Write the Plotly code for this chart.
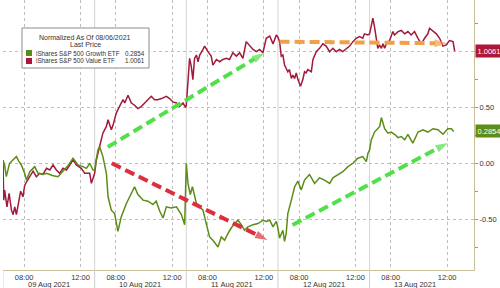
import plotly.graph_objects as go

# ---------------- data ----------------
DAYS = ["09 Aug 2021", "10 Aug 2021", "11 Aug 2021", "12 Aug 2021", "13 Aug 2021"]
SESSION_OPEN_H = 6.5      # 06:30 local display time
SESSION_LEN_H = 6.5       # 06:30 - 13:00
TICK_HOURS = [8.0, 12.0]
TICK_TEXT = ["08:00", "12:00"]

# minutes after session open, per day ; values normalized as of 08/06/2021
value_min = [
    [0, 3, 7, 17, 26, 36, 43, 50, 57, 67, 75, 85, 92, 99, 114, 128, 142, 156, 170, 185, 199, 213, 227, 241, 255, 270, 284, 298, 312, 333, 348, 369, 376],
    [0, 7, 14, 21, 35, 50, 57, 71, 78, 92, 106, 121, 128, 142, 156, 170, 184, 199, 213, 227, 241, 255, 269, 284, 305, 319, 333, 348, 362, 376, 387],
    [0, 7, 14, 21, 28, 35, 43, 50, 57, 71, 78, 92, 106, 113, 128, 142, 156, 170, 184, 198, 213, 227, 241, 255, 270, 284, 298, 312, 326, 340, 355, 369, 383],
    [0, 7, 14, 21, 28, 42, 49, 57, 63, 71, 78, 85, 96, 106, 113, 120, 127, 142, 149, 163, 177, 191, 205, 220, 234, 248, 262, 276, 291, 305, 319, 333, 347, 361, 368, 383],
    [0, 7, 14, 21, 28, 35, 43, 50, 57, 64, 71, 85, 99, 106, 121, 135, 149, 163, 177, 191, 206, 220, 234, 248, 255, 270, 284, 298, 312, 326, 340, 355, 362],
]
value_val = [
    [0.03, -0.33, -0.24, -0.39, -0.27, -0.42, -0.46, -0.39, -0.46, -0.33, -0.25, -0.30, -0.20, -0.17, -0.12, -0.07, -0.12, -0.09, -0.10, -0.045, -0.06, -0.015, -0.06, -0.09, -0.045, -0.06, -0.015, 0.03, -0.015, -0.045, -0.09, -0.09, -0.18],
    [-0.09, 0.03, 0.105, 0.15, 0.27, 0.33, 0.39, 0.30, 0.34, 0.45, 0.51, 0.57, 0.54, 0.61, 0.54, 0.52, 0.49, 0.51, 0.54, 0.57, 0.60, 0.57, 0.57, 0.58, 0.60, 0.58, 0.55, 0.54, 0.51, 0.54, 0.50],
    [0.52, 0.72, 0.94, 0.87, 0.75, 0.94, 0.97, 0.91, 0.97, 1.02, 1.05, 1.00, 0.96, 0.88, 0.93, 0.91, 0.93, 0.94, 0.93, 0.99, 0.96, 0.99, 0.94, 1.09, 1.05, 1.02, 1.00, 1.02, 0.99, 1.12, 1.14, 1.07, 1.15],
    [1.13, 1.09, 0.96, 0.97, 0.88, 0.82, 0.84, 0.76, 0.79, 0.76, 0.81, 0.75, 0.69, 0.75, 0.82, 0.81, 0.84, 0.82, 0.93, 1.00, 1.03, 1.07, 1.05, 1.00, 1.03, 1.00, 1.02, 1.00, 1.03, 1.05, 1.09, 1.12, 1.135, 1.12, 1.16, 1.15],
    [1.16, 1.25, 1.30, 1.22, 1.10, 1.03, 1.06, 1.03, 1.07, 1.03, 1.07, 1.10, 1.18, 1.15, 1.18, 1.19, 1.16, 1.18, 1.15, 1.18, 1.12, 1.07, 1.12, 1.16, 1.21, 1.18, 1.16, 1.12, 1.05, 1.06, 1.10, 1.09, 1.0061],
]

growth_min = [
    [0, 7, 14, 28, 42, 57, 67, 78, 92, 100, 114, 135, 149, 170, 185, 210, 234, 255, 277, 298, 319, 340, 355, 369, 383],
    [0, 14, 21, 35, 50, 57, 71, 85, 99, 113, 135, 156, 170, 184, 206, 227, 248, 262, 277, 291, 305, 326, 348, 369, 383],
    [0, 7, 17, 26, 43, 57, 71, 85, 99, 113, 135, 149, 163, 177, 191, 206, 220, 234, 248, 262, 284, 305, 326, 340, 355, 369, 383],
    [0, 7, 21, 28, 35, 42, 57, 71, 85, 99, 113, 134, 156, 177, 198, 220, 234, 255, 276, 298, 319, 340, 361, 376, 383],
    [0, 7, 21, 35, 43, 50, 64, 78, 92, 106, 121, 135, 149, 163, 184, 206, 227, 248, 270, 291, 312, 333, 348, 358],
]
growth_val = [
    [0.03, -0.02, -0.12, 0.0, 0.03, 0.06, 0.02, -0.015, -0.09, -0.15, -0.075, -0.03, -0.09, -0.10, -0.09, -0.11, -0.12, -0.075, -0.02, 0.045, -0.015, -0.03, -0.045, 0.0, -0.06],
    [-0.06, 0.12, 0.15, 0.06, -0.09, -0.30, -0.42, -0.45, -0.61, -0.48, -0.36, -0.27, -0.21, -0.28, -0.33, -0.34, -0.37, -0.34, -0.43, -0.49, -0.39, -0.40, -0.39, -0.46, -0.55],
    [0.0, -0.18, -0.28, -0.21, -0.36, -0.39, -0.42, -0.54, -0.66, -0.69, -0.75, -0.66, -0.69, -0.63, -0.58, -0.54, -0.51, -0.55, -0.60, -0.57, -0.55, -0.54, -0.51, -0.52, -0.51, -0.57, -0.52],
    [-0.58, -0.67, -0.60, -0.70, -0.63, -0.45, -0.33, -0.21, -0.16, -0.24, -0.15, -0.10, -0.18, -0.13, -0.15, -0.18, -0.13, -0.10, -0.075, -0.03, 0.0, 0.045, 0.06, 0.015, 0.09],
    [0.12, 0.21, 0.28, 0.31, 0.33, 0.41, 0.31, 0.27, 0.28, 0.26, 0.23, 0.24, 0.21, 0.26, 0.18, 0.28, 0.30, 0.28, 0.31, 0.30, 0.26, 0.31, 0.31, 0.2854],
]

GROWTH_NAME = "iShares S&P 500 Growth ETF"
VALUE_NAME = "iShares S&P 500 Value ETF"
GROWTH_LAST = 0.2854
VALUE_LAST = 1.0061

# annotation arrows: (day, minute) start -> (day, minute) end, with values
ARROWS = [
    ((1, 56), 0.146, (2, 332), 0.988, "#52E04A"),
    ((1, 73), 0.0, (2, 345), -0.687, "#DC2E3C"),
    ((3, 62), -0.553, (4, 333), 0.182, "#52E04A"),
    ((3, 7), 1.09, (4, 329), 1.075, "#F0A048"),
]

# ---------------- styling ----------------
GREEN = "#5B8C16"
RED = "#A3193B"
AXIS_COL = "#C9BE9A"
GRID_COL = "#BDBDBD"
FONT = "Liberation Sans"


def to_x(day, minute):
    return day * SESSION_LEN_H + minute / 60.0


def flatten(mins, vals):
    xs, ys = [], []
    for d, (mm, vv) in enumerate(zip(mins, vals)):
        for m, v in zip(mm, vv):
            xs.append(to_x(d, m))
            ys.append(v)
    return xs, ys


fig = go.Figure()

vx, vy = flatten(value_min, value_val)
gx, gy = flatten(growth_min, growth_val)

fig.add_trace(go.Scatter(x=vx, y=vy, mode="lines", line=dict(color=RED, width=1.5),
                         name=VALUE_NAME, showlegend=False, hoverinfo="skip"))
fig.add_trace(go.Scatter(x=gx, y=gy, mode="lines", line=dict(color=GREEN, width=1.5),
                         name=GROWTH_NAME, showlegend=False, hoverinfo="skip"))

for (d0, m0), y0, (d1, m1), y1, col in ARROWS:
    fig.add_trace(go.Scatter(
        x=[to_x(d0, m0), to_x(d1, m1)], y=[y0, y1], mode="lines+markers",
        line=dict(color=col, width=4, dash="10px,5px"),
        marker=dict(symbol=["circle", "arrow"], size=[0, 13], angleref="previous",
                    color=col, line=dict(width=0)),
        showlegend=False, hoverinfo="skip", cliponaxis=False))

n_days = len(DAYS)
tickvals, ticktext = [], []
for d in range(n_days):
    for h, t in zip(TICK_HOURS, TICK_TEXT):
        tickvals.append(d * SESSION_LEN_H + (h - SESSION_OPEN_H))
        ticktext.append(t)

shapes = []
# day boundary lines (inside plot and through the label band)
for d in range(n_days):
    xb = d * SESSION_LEN_H
    if d > 0:
        shapes.append(dict(type="line", xref="x", yref="paper", x0=xb, x1=xb, y0=0, y1=1,
                           line=dict(color="#D4D4D4", width=1), layer="below"))
    shapes.append(dict(type="line", xref="x", yref="paper", x0=xb, x1=xb, y0=0, y1=-0.07,
                       line=dict(color="#CFCFCF", width=1)))

# legend box
L, R, T, B = 3, 26, 0, 18
PW, PH = 500 - L - R, 288 - T - B


def px_x(p):
    return (p - L) / PW


def px_y(p):
    return 1 - (p - T) / PH


shapes.append(dict(type="rect", xref="paper", yref="paper",
                   x0=px_x(22), x1=px_x(149), y0=px_y(68), y1=px_y(28),
                   fillcolor="white", line=dict(color="#8C8C8C", width=1)))
shapes.append(dict(type="rect", xref="paper", yref="paper",
                   x0=px_x(26), x1=px_x(32), y0=px_y(56), y1=px_y(50),
                   fillcolor=GREEN, line=dict(width=0)))
shapes.append(dict(type="rect", xref="paper", yref="paper",
                   x0=px_x(26), x1=px_x(32), y0=px_y(64), y1=px_y(58),
                   fillcolor="#B0163A", line=dict(width=0)))

ttl = dict(family=FONT, size=7, color="#333333")
txt = dict(family=FONT, size=6.3, color="#333333")
annotations = [
    dict(xref="paper", yref="paper", x=px_x(85), y=px_y(37), text="Normalized As Of 08/06/2021",
         showarrow=False, font=ttl, xanchor="center", yanchor="middle"),
    dict(xref="paper", yref="paper", x=px_x(85), y=px_y(45), text="Last Price",
         showarrow=False, font=ttl, xanchor="center", yanchor="middle"),
    dict(xref="paper", yref="paper", x=px_x(34), y=px_y(53), text=GROWTH_NAME,
         showarrow=False, font=txt, xanchor="left", yanchor="middle"),
    dict(xref="paper", yref="paper", x=px_x(147), y=px_y(53), text=f"{GROWTH_LAST:.4f}",
         showarrow=False, font=txt, xanchor="right", yanchor="middle"),
    dict(xref="paper", yref="paper", x=px_x(34), y=px_y(61), text=VALUE_NAME,
         showarrow=False, font=txt, xanchor="left", yanchor="middle"),
    dict(xref="paper", yref="paper", x=px_x(147), y=px_y(61), text=f"{VALUE_LAST:.4f}",
         showarrow=False, font=txt, xanchor="right", yanchor="middle"),
]
# last-price boxes on the right axis
for val, col in [(VALUE_LAST, "#B0163A"), (GROWTH_LAST, "#5E8E16")]:
    annotations.append(dict(xref="paper", yref="y", x=1, y=val, text=f"{val:.4f}",
                            showarrow=False, xanchor="left", yanchor="middle", xshift=0.5,
                            bgcolor=col, borderpad=1.5,
                            font=dict(family=FONT, size=7.5, color="white")))
# day labels
for d, lab in enumerate(DAYS):
    annotations.append(dict(xref="x", yref="paper", x=d * SESSION_LEN_H + SESSION_LEN_H / 2,
                            y=px_y(284), text=lab, showarrow=False,
                            xanchor="center", yanchor="middle",
                            font=dict(family=FONT, size=7.5, color="#333333")))

x_max = (474 - L) / 14.1

fig.update_layout(
    width=500, height=288,
    margin=dict(l=L, r=R, t=T, b=B),
    paper_bgcolor="white", plot_bgcolor="white",
    shapes=shapes, annotations=annotations,
    showlegend=False,
    xaxis=dict(range=[0, x_max], tickvals=tickvals, ticktext=ticktext,
               showgrid=True, gridcolor=GRID_COL, griddash="dot", gridwidth=1,
               showline=True, linecolor=AXIS_COL, linewidth=1, ticks="",
               zeroline=False, tickfont=dict(family=FONT, size=7.5, color="#333333"),
               fixedrange=True),
    yaxis=dict(range=[-0.956, 1.463], side="right",
               tickvals=[-0.5, 0.0, 0.5, 1.0], ticktext=["-0.50", "0.00", "0.50", ""],
               showgrid=True, gridcolor=GRID_COL, griddash="dot", gridwidth=1,
               showline=True, linecolor=AXIS_COL, linewidth=1,
               ticks="outside", ticklen=3, tickcolor="#999999",
               minor=dict(tickvals=[-0.75, -0.25, 0.25, 0.75, 1.25], ticks="outside",
                          ticklen=3, tickcolor="#999999", showgrid=False),
               zeroline=False, tickfont=dict(family=FONT, size=7.5, color="#333333"),
               fixedrange=True),
)

fig.write_html("out.html", config={"displayModeBar": False})
